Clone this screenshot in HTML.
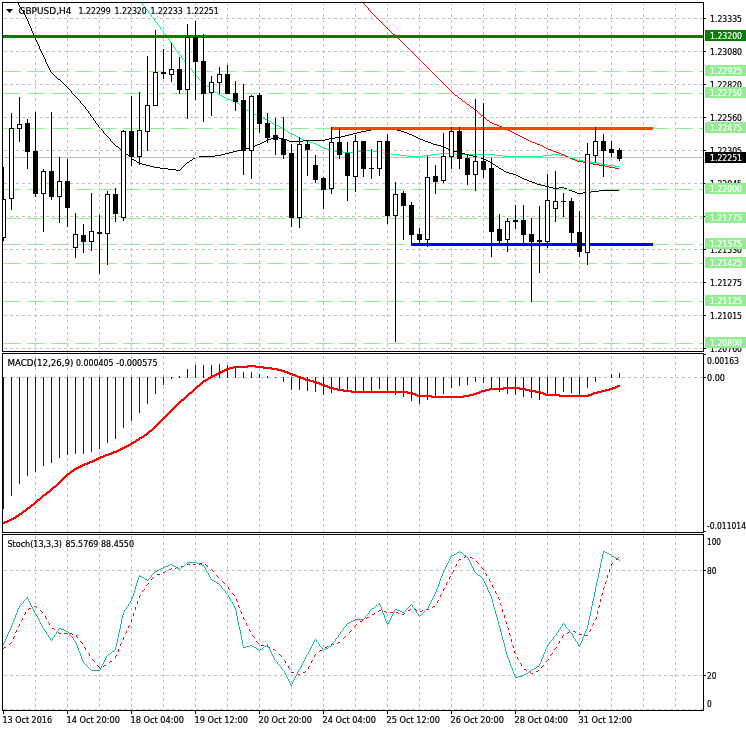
<!DOCTYPE html>
<html><head><meta charset="utf-8"><title>GBPUSD H4</title>
<style>html,body{margin:0;padding:0;background:#fff}svg{display:block}</style></head>
<body>
<svg width="746" height="731" viewBox="0 0 746 731" shape-rendering="crispEdges" font-family='"DejaVu Sans Condensed", "Liberation Sans", sans-serif' font-size="9px">
<rect width="746" height="731" fill="#fff"/>
<g id="vgrid">
<line x1="35.5" y1="2" x2="35.5" y2="710" stroke="#c0c0c0" stroke-width="1" stroke-dasharray="3 3" stroke-dashoffset="0"/>
<line x1="67.5" y1="2" x2="67.5" y2="710" stroke="#c0c0c0" stroke-width="1" stroke-dasharray="3 3" stroke-dashoffset="0"/>
<line x1="99.5" y1="2" x2="99.5" y2="710" stroke="#c0c0c0" stroke-width="1" stroke-dasharray="3 3" stroke-dashoffset="0"/>
<line x1="131.5" y1="2" x2="131.5" y2="710" stroke="#c0c0c0" stroke-width="1" stroke-dasharray="3 3" stroke-dashoffset="0"/>
<line x1="163.5" y1="2" x2="163.5" y2="710" stroke="#c0c0c0" stroke-width="1" stroke-dasharray="3 3" stroke-dashoffset="0"/>
<line x1="195.5" y1="2" x2="195.5" y2="710" stroke="#c0c0c0" stroke-width="1" stroke-dasharray="3 3" stroke-dashoffset="0"/>
<line x1="227.5" y1="2" x2="227.5" y2="710" stroke="#c0c0c0" stroke-width="1" stroke-dasharray="3 3" stroke-dashoffset="0"/>
<line x1="259.5" y1="2" x2="259.5" y2="710" stroke="#c0c0c0" stroke-width="1" stroke-dasharray="3 3" stroke-dashoffset="0"/>
<line x1="291.5" y1="2" x2="291.5" y2="710" stroke="#c0c0c0" stroke-width="1" stroke-dasharray="3 3" stroke-dashoffset="0"/>
<line x1="323.5" y1="2" x2="323.5" y2="710" stroke="#c0c0c0" stroke-width="1" stroke-dasharray="3 3" stroke-dashoffset="0"/>
<line x1="355.5" y1="2" x2="355.5" y2="710" stroke="#c0c0c0" stroke-width="1" stroke-dasharray="3 3" stroke-dashoffset="0"/>
<line x1="387.5" y1="2" x2="387.5" y2="710" stroke="#c0c0c0" stroke-width="1" stroke-dasharray="3 3" stroke-dashoffset="0"/>
<line x1="419.5" y1="2" x2="419.5" y2="710" stroke="#c0c0c0" stroke-width="1" stroke-dasharray="3 3" stroke-dashoffset="0"/>
<line x1="451.5" y1="2" x2="451.5" y2="710" stroke="#c0c0c0" stroke-width="1" stroke-dasharray="3 3" stroke-dashoffset="0"/>
<line x1="483.5" y1="2" x2="483.5" y2="710" stroke="#c0c0c0" stroke-width="1" stroke-dasharray="3 3" stroke-dashoffset="0"/>
<line x1="515.5" y1="2" x2="515.5" y2="710" stroke="#c0c0c0" stroke-width="1" stroke-dasharray="3 3" stroke-dashoffset="0"/>
<line x1="547.5" y1="2" x2="547.5" y2="710" stroke="#c0c0c0" stroke-width="1" stroke-dasharray="3 3" stroke-dashoffset="0"/>
<line x1="579.5" y1="2" x2="579.5" y2="710" stroke="#c0c0c0" stroke-width="1" stroke-dasharray="3 3" stroke-dashoffset="0"/>
<line x1="611.5" y1="2" x2="611.5" y2="710" stroke="#c0c0c0" stroke-width="1" stroke-dasharray="3 3" stroke-dashoffset="0"/>
<line x1="643.5" y1="2" x2="643.5" y2="710" stroke="#c0c0c0" stroke-width="1" stroke-dasharray="3 3" stroke-dashoffset="0"/>
<line x1="675.5" y1="2" x2="675.5" y2="710" stroke="#c0c0c0" stroke-width="1" stroke-dasharray="3 3" stroke-dashoffset="0"/>
</g>
<g id="hgrid">
<line x1="4" y1="18.5" x2="703" y2="18.5" stroke="#c0c0c0" stroke-width="1" stroke-dasharray="3 3" stroke-dashoffset="0"/>
<line x1="4" y1="51.5" x2="703" y2="51.5" stroke="#c0c0c0" stroke-width="1" stroke-dasharray="3 3" stroke-dashoffset="0"/>
<line x1="4" y1="84.5" x2="703" y2="84.5" stroke="#c0c0c0" stroke-width="1" stroke-dasharray="3 3" stroke-dashoffset="0"/>
<line x1="4" y1="117.5" x2="703" y2="117.5" stroke="#c0c0c0" stroke-width="1" stroke-dasharray="3 3" stroke-dashoffset="0"/>
<line x1="4" y1="150.5" x2="703" y2="150.5" stroke="#c0c0c0" stroke-width="1" stroke-dasharray="3 3" stroke-dashoffset="0"/>
<line x1="4" y1="183.5" x2="703" y2="183.5" stroke="#c0c0c0" stroke-width="1" stroke-dasharray="3 3" stroke-dashoffset="0"/>
<line x1="4" y1="216.5" x2="703" y2="216.5" stroke="#c0c0c0" stroke-width="1" stroke-dasharray="3 3" stroke-dashoffset="0"/>
<line x1="4" y1="249.5" x2="703" y2="249.5" stroke="#c0c0c0" stroke-width="1" stroke-dasharray="3 3" stroke-dashoffset="0"/>
<line x1="4" y1="282.5" x2="703" y2="282.5" stroke="#c0c0c0" stroke-width="1" stroke-dasharray="3 3" stroke-dashoffset="0"/>
<line x1="4" y1="315.5" x2="703" y2="315.5" stroke="#c0c0c0" stroke-width="1" stroke-dasharray="3 3" stroke-dashoffset="0"/>
<line x1="4" y1="348.5" x2="703" y2="348.5" stroke="#c0c0c0" stroke-width="1" stroke-dasharray="3 3" stroke-dashoffset="0"/>
<line x1="4" y1="377.5" x2="703" y2="377.5" stroke="#c0c0c0" stroke-width="1" stroke-dasharray="3 3" stroke-dashoffset="0"/>
<line x1="4" y1="570.5" x2="703" y2="570.5" stroke="#c0c0c0" stroke-width="1" stroke-dasharray="3 3" stroke-dashoffset="0"/>
<line x1="4" y1="675.5" x2="703" y2="675.5" stroke="#c0c0c0" stroke-width="1" stroke-dasharray="3 3" stroke-dashoffset="0"/>
<line x1="4" y1="709.5" x2="703" y2="709.5" stroke="#c0c0c0" stroke-width="1" stroke-dasharray="3 3" stroke-dashoffset="0"/>
</g>
<g id="mas">
<path d="M607 165h8v1h-8zM399 155h8v1h-8zM423 155h8v1h-8zM495 155h8v1h-8zM543 155h8v1h-8zM559 155h6v1h-6zM343 152h14v1h-14zM377 152h6v1h-6zM391 154h8v1h-8zM431 154h8v1h-8zM455 154h40v1h-40zM551 154h8v1h-8zM252 113h2v1h-2zM288 132h2v1h-2zM329 150h6v1h-6zM361 150h12v1h-12zM292 134h2v1h-2zM407 156h16v1h-16zM503 156h40v1h-40zM565 156h4v1h-4zM240 105h2v1h-2zM313 143h3v1h-3zM591 162h6v1h-6zM203 83h2v1h-2zM269 121h2v1h-2zM260 117h3v1h-3zM285 130h2v1h-2zM572 158h3v1h-3zM263 118h2v1h-2zM615 166h4v1h-4zM254 114h2v1h-2zM335 151h8v1h-8zM357 151h4v1h-4zM373 151h4v1h-4zM383 153h8v1h-8zM439 153h16v1h-16zM583 161h8v1h-8zM309 142h4v1h-4zM265 119h2v1h-2zM258 116h2v1h-2zM250 112h2v1h-2zM235 102h2v1h-2zM597 163h4v1h-4zM243 107h2v1h-2zM322 147h2v1h-2zM247 110h2v1h-2zM283 129h2v1h-2zM231 100h2v1h-2zM224 97h2v1h-2zM601 164h6v1h-6zM318 145h2v1h-2zM276 125h2v1h-2zM575 159h2v1h-2zM280 127h2v1h-2zM220 95h2v1h-2zM272 123h2v1h-2zM302 139h2v1h-2zM294 135h2v1h-2zM577 160h6v1h-6zM298 137h2v1h-2zM290 133h2v1h-2zM324 148h3v1h-3zM256 115h2v1h-2zM226 98h2v1h-2zM228 99h3v1h-3zM569 157h3v1h-3zM222 96h2v1h-2zM215 92h2v1h-2zM211 89h2v1h-2zM306 141h3v1h-3zM233 101h2v1h-2zM316 144h2v1h-2zM278 126h2v1h-2zM327 149h2v1h-2zM237 103h2v1h-2zM320 146h2v1h-2zM207 86h2v1h-2zM274 124h2v1h-2zM267 120h2v1h-2zM304 140h2v1h-2zM300 138h2v1h-2zM218 94h2v1h-2zM296 136h2v1h-2zM143 5h1v1h-1zM152 17h1v1h-1zM161 29h1v1h-1zM170 41h1v2h-1zM175 48h1v2h-1zM184 60h1v2h-1zM198 77h1v2h-1zM246 109h1v1h-1zM144 6h1v1h-1zM153 18h1v1h-1zM176 50h1v1h-1zM199 79h1v1h-1zM155 21h1v1h-1zM210 88h1v1h-1zM186 63h1v1h-1zM181 56h1v2h-1zM169 40h1v1h-1zM168 38h1v2h-1zM201 81h1v1h-1zM142 3h1v2h-1zM245 108h1v1h-1zM188 65h1v2h-1zM173 45h1v2h-1zM202 82h1v1h-1zM182 58h1v1h-1zM151 15h1v2h-1zM160 27h1v2h-1zM197 76h1v1h-1zM162 30h1v1h-1zM193 72h1v1h-1zM148 11h1v2h-1zM157 23h1v2h-1zM166 35h1v2h-1zM145 7h1v2h-1zM154 19h1v2h-1zM271 122h1v1h-1zM163 31h1v2h-1zM200 80h1v1h-1zM194 73h1v1h-1zM217 93h1v1h-1zM149 13h1v1h-1zM158 25h1v1h-1zM195 74h1v1h-1zM189 67h1v1h-1zM172 44h1v1h-1zM249 111h1v1h-1zM196 75h1v1h-1zM206 85h1v1h-1zM174 47h1v1h-1zM183 59h1v1h-1zM164 33h1v1h-1zM192 70h1v2h-1zM209 87h1v1h-1zM191 69h1v1h-1zM178 52h1v2h-1zM147 10h1v1h-1zM156 22h1v1h-1zM282 128h1v1h-1zM165 34h1v1h-1zM167 37h1v1h-1zM179 54h1v1h-1zM171 43h1v1h-1zM180 55h1v1h-1zM239 104h1v1h-1zM150 14h1v1h-1zM159 26h1v1h-1zM190 68h1v1h-1zM242 106h1v1h-1zM205 84h1v1h-1zM185 62h1v1h-1zM287 131h1v1h-1zM213 90h1v1h-1zM146 9h1v1h-1zM214 91h1v1h-1zM177 51h1v1h-1zM187 64h1v1h-1z" fill="#00ff7f"/>
<path d="M599 165h6v1h-6zM609 167h6v1h-6zM577 161h6v1h-6zM553 151h3v1h-3zM490 122h2v1h-2zM589 163h4v1h-4zM524 138h2v1h-2zM516 134h2v1h-2zM593 164h6v1h-6zM575 160h2v1h-2zM542 146h2v1h-2zM512 132h2v1h-2zM535 143h2v1h-2zM463 101h2v1h-2zM475 110h2v1h-2zM615 168h4v1h-4zM583 162h6v1h-6zM497 125h2v1h-2zM546 148h2v1h-2zM393 34h2v1h-2zM471 107h2v1h-2zM530 141h2v1h-2zM561 154h3v1h-3zM467 104h2v1h-2zM492 123h2v1h-2zM556 152h3v1h-3zM481 115h2v1h-2zM548 149h3v1h-3zM605 166h4v1h-4zM568 157h2v1h-2zM504 128h2v1h-2zM459 98h2v1h-2zM572 159h3v1h-3zM564 155h2v1h-2zM499 126h3v1h-3zM522 137h2v1h-2zM559 153h2v1h-2zM526 139h2v1h-2zM455 95h2v1h-2zM518 135h2v1h-2zM510 131h2v1h-2zM551 150h2v1h-2zM544 147h2v1h-2zM514 133h2v1h-2zM506 129h2v1h-2zM537 144h3v1h-3zM508 130h2v1h-2zM540 145h2v1h-2zM502 127h2v1h-2zM532 142h3v1h-3zM494 124h3v1h-3zM487 120h2v1h-2zM570 158h2v1h-2zM566 156h2v1h-2zM528 140h2v1h-2zM520 136h2v1h-2zM388 29h1v1h-1zM405 45h1v1h-1zM479 113h1v1h-1zM415 55h1v1h-1zM442 82h1v1h-1zM411 51h1v1h-1zM389 30h1v1h-1zM438 78h1v1h-1zM448 88h1v1h-1zM466 103h1v1h-1zM444 84h1v1h-1zM439 79h1v1h-1zM416 56h1v1h-1zM473 108h1v1h-1zM412 52h1v1h-1zM474 109h1v1h-1zM449 89h1v1h-1zM413 53h1v1h-1zM445 85h1v1h-1zM392 33h1v1h-1zM369 10h1v1h-1zM374 15h1v1h-1zM446 86h1v1h-1zM489 121h1v1h-1zM423 63h1v1h-1zM370 11h1v1h-1zM364 4h1v1h-1zM419 59h1v1h-1zM414 54h1v1h-1zM420 60h1v1h-1zM452 92h1v1h-1zM447 87h1v1h-1zM483 116h1v1h-1zM371 12h1v1h-1zM443 83h1v1h-1zM381 22h1v1h-1zM453 93h1v1h-1zM377 18h1v1h-1zM372 13h1v1h-1zM421 61h1v1h-1zM373 14h1v1h-1zM368 8h1v2h-1zM417 57h1v1h-1zM427 67h1v1h-1zM454 94h1v1h-1zM418 58h1v1h-1zM378 19h1v1h-1zM450 90h1v1h-1zM395 35h1v1h-1zM486 119h1v1h-1zM461 99h1v1h-1zM379 20h1v1h-1zM451 91h1v1h-1zM428 68h1v1h-1zM462 100h1v1h-1zM375 16h1v1h-1zM424 64h1v1h-1zM429 69h1v1h-1zM469 105h1v1h-1zM365 5h1v1h-1zM425 65h1v1h-1zM385 26h1v1h-1zM402 42h1v1h-1zM397 37h1v1h-1zM366 6h1v1h-1zM398 38h1v1h-1zM376 17h1v1h-1zM386 27h1v1h-1zM403 43h1v1h-1zM484 117h1v1h-1zM477 111h1v1h-1zM435 75h1v1h-1zM430 70h1v1h-1zM382 23h1v1h-1zM399 39h1v1h-1zM431 71h1v1h-1zM426 66h1v1h-1zM436 76h1v1h-1zM367 7h1v1h-1zM422 62h1v1h-1zM432 72h1v1h-1zM404 44h1v1h-1zM485 118h1v1h-1zM478 112h1v1h-1zM363 3h1v1h-1zM383 24h1v1h-1zM400 40h1v1h-1zM410 50h1v1h-1zM396 36h1v1h-1zM406 46h1v1h-1zM384 25h1v1h-1zM401 41h1v1h-1zM433 73h1v1h-1zM380 21h1v1h-1zM434 74h1v1h-1zM480 114h1v1h-1zM470 106h1v1h-1zM390 31h1v1h-1zM407 47h1v1h-1zM391 32h1v1h-1zM408 48h1v1h-1zM440 80h1v1h-1zM457 96h1v1h-1zM387 28h1v1h-1zM441 81h1v1h-1zM458 97h1v1h-1zM437 77h1v1h-1zM465 102h1v1h-1zM409 49h1v1h-1z" fill="#ff0000"/>
<path d="M575 192h2v1h-2zM583 192h8v1h-8zM264 141h2v1h-2zM289 141h14v1h-14zM425 141h3v1h-3zM168 169h8v1h-8zM501 169h2v1h-2zM376 128h17v1h-17zM139 163h3v1h-3zM491 163h2v1h-2zM545 186h4v1h-4zM225 153h4v1h-4zM461 153h4v1h-4zM341 136h4v1h-4zM414 136h2v1h-2zM257 144h3v1h-3zM433 144h4v1h-4zM268 139h3v1h-3zM284 139h3v1h-3zM325 139h4v1h-4zM420 139h3v1h-3zM266 140h2v1h-2zM287 140h2v1h-2zM303 140h22v1h-22zM423 140h2v1h-2zM154 167h6v1h-6zM255 145h2v1h-2zM437 145h4v1h-4zM199 156h16v1h-16zM473 156h4v1h-4zM504 171h2v1h-2zM572 191h3v1h-3zM591 191h8v1h-8zM229 152h4v1h-4zM457 152h4v1h-4zM273 137h6v1h-6zM335 137h6v1h-6zM416 137h2v1h-2zM506 172h3v1h-3zM371 129h5v1h-5zM393 129h4v1h-4zM549 187h4v1h-4zM559 187h5v1h-5zM569 190h3v1h-3zM599 190h20v1h-20zM249 147h3v1h-3zM444 147h2v1h-2zM126 154h2v1h-2zM221 154h4v1h-4zM465 154h4v1h-4zM577 193h6v1h-6zM260 143h2v1h-2zM431 143h2v1h-2zM366 130h5v1h-5zM397 130h4v1h-4zM353 133h4v1h-4zM407 133h2v1h-2zM215 155h6v1h-6zM469 155h4v1h-4zM120 149h2v1h-2zM241 149h4v1h-4zM448 149h2v1h-2zM160 168h8v1h-8zM499 168h2v1h-2zM361 131h5v1h-5zM401 131h3v1h-3zM509 173h4v1h-4zM142 164h4v1h-4zM493 164h2v1h-2zM134 160h2v1h-2zM190 160h2v1h-2zM486 160h2v1h-2zM233 151h4v1h-4zM453 151h4v1h-4zM271 138h2v1h-2zM279 138h5v1h-5zM329 138h6v1h-6zM418 138h2v1h-2zM146 165h4v1h-4zM349 134h4v1h-4zM409 134h3v1h-3zM245 148h4v1h-4zM446 148h2v1h-2zM195 157h4v1h-4zM477 157h4v1h-4zM193 158h2v1h-2zM481 158h3v1h-3zM237 150h4v1h-4zM450 150h3v1h-3zM524 179h3v1h-3zM116 146h2v1h-2zM252 146h3v1h-3zM441 146h3v1h-3zM518 176h2v1h-2zM150 166h4v1h-4zM496 166h2v1h-2zM529 181h3v1h-3zM520 177h2v1h-2zM176 170h4v1h-4zM522 178h2v1h-2zM137 162h2v1h-2zM187 162h2v1h-2zM513 174h3v1h-3zM345 135h4v1h-4zM412 135h2v1h-2zM132 159h2v1h-2zM484 159h2v1h-2zM58 79h2v1h-2zM357 132h4v1h-4zM404 132h3v1h-3zM532 182h3v1h-3zM553 188h6v1h-6zM564 188h3v1h-3zM567 189h2v1h-2zM535 183h2v1h-2zM488 161h2v1h-2zM537 184h4v1h-4zM262 142h2v1h-2zM428 142h3v1h-3zM541 185h4v1h-4zM516 175h2v1h-2zM527 180h2v1h-2zM50 70h1v2h-1zM81 103h1v1h-1zM110 139h1v2h-1zM31 28h1v3h-1zM90 114h1v2h-1zM105 134h1v1h-1zM38 44h1v2h-1zM99 127h1v1h-1zM34 35h1v3h-1zM28 21h1v3h-1zM40 49h1v2h-1zM37 42h1v2h-1zM21 8h1v2h-1zM41 51h1v2h-1zM503 170h1v1h-1zM47 64h1v2h-1zM22 10h1v1h-1zM72 93h1v1h-1zM88 111h1v2h-1zM82 104h1v1h-1zM18 3h1v2h-1zM32 31h1v2h-1zM498 167h1v1h-1zM45 59h1v3h-1zM186 163h1v1h-1zM93 118h1v2h-1zM73 94h1v1h-1zM102 130h1v1h-1zM39 46h1v3h-1zM185 164h1v1h-1zM103 131h1v2h-1zM36 40h1v2h-1zM118 147h1v1h-1zM26 17h1v2h-1zM97 124h1v1h-1zM33 33h1v2h-1zM85 107h1v2h-1zM189 161h1v1h-1zM64 84h1v1h-1zM42 53h1v2h-1zM109 138h1v1h-1zM19 5h1v2h-1zM119 148h1v1h-1zM43 55h1v2h-1zM46 62h1v2h-1zM60 80h1v1h-1zM49 68h1v2h-1zM80 101h1v2h-1zM24 13h1v2h-1zM30 26h1v2h-1zM89 113h1v1h-1zM75 96h1v1h-1zM76 97h1v1h-1zM91 116h1v1h-1zM71 91h1v2h-1zM100 128h1v1h-1zM77 98h1v1h-1zM61 81h1v1h-1zM95 121h1v2h-1zM25 15h1v2h-1zM83 105h1v1h-1zM62 82h1v1h-1zM92 117h1v1h-1zM29 24h1v2h-1zM128 155h1v1h-1zM51 72h1v1h-1zM44 57h1v2h-1zM84 106h1v1h-1zM78 99h1v1h-1zM48 66h1v2h-1zM74 95h1v1h-1zM490 162h1v1h-1zM68 88h1v1h-1zM63 83h1v1h-1zM56 77h1v1h-1zM35 38h1v2h-1zM111 141h1v1h-1zM183 166h1v1h-1zM52 73h1v1h-1zM69 89h1v1h-1zM98 125h1v2h-1zM184 165h1v1h-1zM27 19h1v2h-1zM65 85h1v1h-1zM181 168h1v1h-1zM20 7h1v1h-1zM182 167h1v1h-1zM131 158h1v1h-1zM23 11h1v2h-1zM70 90h1v1h-1zM66 86h1v1h-1zM54 75h1v1h-1zM114 144h1v1h-1zM94 120h1v1h-1zM495 165h1v1h-1zM55 76h1v1h-1zM67 87h1v1h-1zM96 123h1v1h-1zM129 156h1v1h-1zM122 150h1v1h-1zM115 145h1v1h-1zM79 100h1v1h-1zM136 161h1v1h-1zM87 110h1v1h-1zM57 78h1v1h-1zM112 142h1v1h-1zM130 157h1v1h-1zM106 135h1v1h-1zM123 151h1v1h-1zM53 74h1v1h-1zM192 159h1v1h-1zM124 152h1v1h-1zM107 136h1v1h-1zM101 129h1v1h-1zM180 169h1v1h-1zM113 143h1v1h-1zM108 137h1v1h-1zM125 153h1v1h-1zM86 109h1v1h-1zM104 133h1v1h-1z" fill="#000"/>
</g>
<g id="levels">
<line x1="3" y1="71.5" x2="703" y2="71.5" stroke="#90ee90" stroke-width="1" stroke-dasharray="18 6" stroke-dashoffset="0"/>
<line x1="3" y1="93.5" x2="703" y2="93.5" stroke="#90ee90" stroke-width="1" stroke-dasharray="18 6" stroke-dashoffset="0"/>
<line x1="3" y1="128.5" x2="703" y2="128.5" stroke="#90ee90" stroke-width="1" stroke-dasharray="18 6" stroke-dashoffset="0"/>
<line x1="3" y1="189.5" x2="703" y2="189.5" stroke="#90ee90" stroke-width="1" stroke-dasharray="18 6" stroke-dashoffset="0"/>
<line x1="3" y1="218.5" x2="703" y2="218.5" stroke="#90ee90" stroke-width="1" stroke-dasharray="18 6" stroke-dashoffset="0"/>
<line x1="3" y1="244.5" x2="703" y2="244.5" stroke="#90ee90" stroke-width="1" stroke-dasharray="18 6" stroke-dashoffset="0"/>
<line x1="3" y1="263.5" x2="703" y2="263.5" stroke="#90ee90" stroke-width="1" stroke-dasharray="18 6" stroke-dashoffset="0"/>
<line x1="3" y1="301.5" x2="703" y2="301.5" stroke="#90ee90" stroke-width="1" stroke-dasharray="18 6" stroke-dashoffset="0"/>
<line x1="3" y1="343.5" x2="703" y2="343.5" stroke="#90ee90" stroke-width="1" stroke-dasharray="18 6" stroke-dashoffset="0"/>
</g>
<line x1="3" y1="157.5" x2="703" y2="157.5" stroke="#c0c0c0" stroke-width="1"/>
<rect x="3" y="35" width="700" height="3" fill="#008000"/>
<rect x="331" y="127" width="322" height="3" fill="#ff4500"/>
<rect x="411" y="243" width="242" height="3" fill="#0000ff"/>
<g id="candles">
<path d="M3 167h1v74h-1zM3 199h3v39h-3zM11 113h1v97h-1zM9 128h5v71h-5zM19 97h1v45h-1zM17 124h5v5h-5zM27 119h1v50h-1zM25 123h5v29h-5zM35 112h1v85h-1zM33 151h5v43h-5zM43 169h1v63h-1zM41 171h5v23h-5zM51 112h1v88h-1zM49 171h5v26h-5zM59 157h1v66h-1zM57 181h5v16h-5zM67 159h1v68h-1zM65 181h5v27h-5zM75 213h1v45h-1zM73 234h5v14h-5zM83 224h1v29h-1zM81 235h5v7h-5zM91 193h1v58h-1zM89 231h5v11h-5zM99 215h1v59h-1zM97 232h5v2h-5zM107 191h1v74h-1zM105 194h5v40h-5zM115 188h1v34h-1zM113 194h5v20h-5zM123 130h1v91h-1zM121 131h5v87h-5zM131 96h1v70h-1zM129 131h5v26h-5zM139 92h1v73h-1zM137 130h5v27h-5zM147 56h1v95h-1zM145 105h5v27h-5zM155 30h1v76h-1zM153 72h5v34h-5zM163 49h1v30h-1zM161 72h5v2h-5zM171 43h1v39h-1zM169 69h5v6h-5zM179 57h1v37h-1zM177 69h5v21h-5zM187 24h1v95h-1zM185 37h5v53h-5zM195 21h1v79h-1zM193 37h5v25h-5zM203 34h1v88h-1zM201 61h5v33h-5zM211 76h1v40h-1zM209 82h5v11h-5zM219 67h1v27h-1zM217 74h5v9h-5zM227 65h1v29h-1zM225 74h5v20h-5zM235 81h1v30h-1zM233 93h5v9h-5zM243 84h1v91h-1zM241 100h5v51h-5zM251 95h1v84h-1zM249 96h5v55h-5zM259 93h1v40h-1zM257 95h5v29h-5zM267 113h1v30h-1zM265 123h5v15h-5zM275 118h1v37h-1zM273 135h5v5h-5zM283 117h1v42h-1zM281 139h5v16h-5zM291 144h1v83h-1zM289 153h5v65h-5zM299 137h1v91h-1zM297 144h5v74h-5zM307 141h1v35h-1zM305 144h5v6h-5zM315 155h1v28h-1zM313 165h5v15h-5zM323 177h1v32h-1zM321 178h5v12h-5zM331 127h1v67h-1zM329 142h5v47h-5zM339 128h1v31h-1zM337 142h5v13h-5zM347 142h1v59h-1zM345 153h5v23h-5zM355 135h1v57h-1zM353 141h5v36h-5zM363 141h1v36h-1zM361 141h5v28h-5zM371 149h1v30h-1zM369 168h5v1h-5zM379 141h1v35h-1zM377 141h5v28h-5zM387 134h1v90h-1zM385 141h5v75h-5zM395 182h1v160h-1zM393 194h5v22h-5zM403 191h1v49h-1zM401 193h5v13h-5zM411 202h1v42h-1zM409 205h5v30h-5zM419 228h1v16h-1zM417 234h5v6h-5zM427 156h1v91h-1zM425 177h5v63h-5zM435 165h1v29h-1zM433 176h5v6h-5zM443 133h1v50h-1zM441 156h5v25h-5zM451 127h1v42h-1zM449 131h5v26h-5zM459 127h1v42h-1zM457 131h5v28h-5zM467 155h1v30h-1zM465 158h5v17h-5zM475 99h1v92h-1zM473 161h5v14h-5zM483 103h1v75h-1zM481 161h5v9h-5zM491 158h1v99h-1zM489 168h5v64h-5zM499 214h1v29h-1zM497 229h5v12h-5zM507 218h1v34h-1zM505 221h5v19h-5zM515 205h1v24h-1zM513 220h5v2h-5zM523 205h1v41h-1zM521 220h5v15h-5zM531 218h1v84h-1zM529 234h5v8h-5zM539 206h1v67h-1zM537 240h5v2h-5zM547 174h1v74h-1zM545 200h5v42h-5zM555 171h1v51h-1zM553 201h5v8h-5zM563 193h1v24h-1zM561 201h5v1h-5zM571 198h1v46h-1zM569 201h5v32h-5zM579 211h1v46h-1zM577 232h5v20h-5zM587 143h1v122h-1zM585 154h5v99h-5zM595 127h1v36h-1zM593 141h5v15h-5zM603 134h1v43h-1zM601 141h5v10h-5zM611 141h1v16h-1zM609 149h5v4h-5zM619 148h1v13h-1zM617 150h5v9h-5z" fill="#000"/>
<path d="M3 200h2v37h-2zM10 129h3v69h-3zM18 125h3v3h-3zM42 172h3v21h-3zM58 182h3v14h-3zM74 235h3v12h-3zM90 232h3v9h-3zM106 195h3v38h-3zM122 132h3v85h-3zM138 131h3v25h-3zM146 106h3v25h-3zM154 73h3v32h-3zM170 70h3v4h-3zM186 38h3v51h-3zM210 83h3v9h-3zM218 75h3v7h-3zM250 97h3v53h-3zM298 145h3v72h-3zM330 143h3v45h-3zM354 142h3v34h-3zM378 142h3v26h-3zM394 195h3v20h-3zM426 178h3v61h-3zM442 157h3v23h-3zM450 132h3v24h-3zM474 162h3v12h-3zM506 222h3v17h-3zM546 201h3v40h-3zM554 202h3v6h-3zM586 155h3v97h-3zM594 142h3v13h-3z" fill="#fff"/>
</g>
<g id="macd">
<path d="M3 377h1v132h-1zM11 377h1v119h-1zM19 377h1v107h-1zM27 377h1v99h-1zM35 377h1v95h-1zM43 377h1v89h-1zM51 377h1v86h-1zM59 377h1v81h-1zM67 377h1v78h-1zM75 377h1v77h-1zM83 377h1v77h-1zM91 377h1v75h-1zM99 377h1v72h-1zM107 377h1v66h-1zM115 377h1v62h-1zM123 377h1v51h-1zM131 377h1v44h-1zM139 377h1v36h-1zM147 377h1v27h-1zM155 377h1v17h-1zM163 377h1v8h-1zM171 377h1v2h-1zM179 376h1v2h-1zM187 369h1v9h-1zM195 365h1v13h-1zM203 365h1v13h-1zM211 365h1v13h-1zM219 364h1v14h-1zM227 365h1v13h-1zM235 368h1v10h-1zM243 372h1v6h-1zM251 372h1v6h-1zM259 374h1v4h-1zM267 376h1v2h-1zM275 377h1v1h-1zM283 377h1v5h-1zM291 377h1v13h-1zM299 377h1v13h-1zM307 377h1v14h-1zM315 377h1v15h-1zM323 377h1v18h-1zM331 377h1v16h-1zM339 377h1v14h-1zM347 377h1v15h-1zM355 377h1v14h-1zM363 377h1v15h-1zM371 377h1v14h-1zM379 377h1v12h-1zM387 377h1v15h-1zM395 377h1v18h-1zM403 377h1v20h-1zM411 377h1v24h-1zM419 377h1v27h-1zM427 377h1v23h-1zM435 377h1v20h-1zM443 377h1v17h-1zM451 377h1v11h-1zM459 377h1v9h-1zM467 377h1v8h-1zM475 377h1v5h-1zM483 377h1v6h-1zM491 377h1v12h-1zM499 377h1v15h-1zM507 377h1v17h-1zM515 377h1v18h-1zM523 377h1v20h-1zM531 377h1v21h-1zM539 377h1v23h-1zM547 377h1v19h-1zM555 377h1v17h-1zM563 377h1v15h-1zM571 377h1v16h-1zM579 377h1v19h-1zM587 377h1v11h-1zM595 377h1v5h-1zM611 374h1v4h-1zM619 373h1v5h-1z" fill="#0000ff"/>
<path d="M192 390h3v1h-3zM337 390h15v1h-15zM481 390h9v1h-9zM525 390h11v1h-11zM601 390h9v1h-9zM184 397h3v1h-3zM431 397h33v1h-33zM189 392h4v1h-4zM351 392h62v1h-62zM476 392h6v1h-6zM535 392h9v1h-9zM593 392h9v1h-9zM120 448h5v1h-5zM156 424h3v1h-3zM178 402h3v1h-3zM224 369h6v1h-6zM271 369h11v1h-11zM187 394h3v1h-3zM412 394h6v1h-6zM469 394h8v1h-8zM543 394h17v1h-17zM588 394h6v1h-6zM135 440h4v1h-4zM7 520h5v1h-5zM194 388h3v1h-3zM329 388h9v1h-9zM489 388h37v1h-37zM609 388h7v1h-7zM41 496h3v1h-3zM229 367h19v1h-19zM255 367h17v1h-17zM208 377h5v1h-5zM297 377h7v1h-7zM105 454h7v1h-7zM222 370h5v1h-5zM277 370h8v1h-8zM147 432h3v1h-3zM89 461h6v1h-6zM186 395h3v1h-3zM415 395h17v1h-17zM463 395h11v1h-11zM545 395h47v1h-47zM133 441h4v1h-4zM193 389h3v1h-3zM333 389h11v1h-11zM485 389h19v1h-19zM519 389h11v1h-11zM605 389h8v1h-8zM4 521h6v1h-6zM31 504h4v1h-4zM218 372h5v1h-5zM284 372h6v1h-6zM19 513h4v1h-4zM188 393h4v1h-4zM407 393h9v1h-9zM473 393h7v1h-7zM540 393h6v1h-6zM591 393h7v1h-7zM84 463h6v1h-6zM185 396h3v1h-3zM417 396h53v1h-53zM559 396h30v1h-30zM3 523h2v1h-2zM216 373h5v1h-5zM287 373h6v1h-6zM69 472h3v1h-3zM111 452h6v1h-6zM226 368h8v1h-8zM263 368h15v1h-15zM191 391h3v1h-3zM343 391h65v1h-65zM479 391h7v1h-7zM529 391h12v1h-12zM597 391h9v1h-9zM23 510h4v1h-4zM203 380h5v1h-5zM305 380h9v1h-9zM169 411h3v1h-3zM196 386h4v1h-4zM324 386h6v1h-6zM615 386h5v1h-5zM202 381h4v1h-4zM309 381h8v1h-8zM195 387h3v1h-3zM327 387h7v1h-7zM503 387h17v1h-17zM612 387h6v1h-6zM65 475h3v1h-3zM116 450h5v1h-5zM163 417h3v1h-3zM233 366h31v1h-31zM154 426h3v1h-3zM220 371h5v1h-5zM281 371h7v1h-7zM131 442h5v1h-5zM3 522h5v1h-5zM247 365h9v1h-9zM153 427h3v1h-3zM59 481h3v1h-3zM49 490h3v1h-3zM21 512h3v1h-3zM176 404h3v1h-3zM143 435h4v1h-4zM100 456h6v1h-6zM18 514h4v1h-4zM29 506h3v1h-3zM161 419h3v1h-3zM160 420h3v1h-3zM66 474h4v1h-4zM57 483h3v1h-3zM46 492h4v1h-4zM78 466h5v1h-5zM199 384h3v1h-3zM319 384h6v1h-6zM207 378h4v1h-4zM300 378h6v1h-6zM103 455h6v1h-6zM183 398h3v1h-3zM39 498h3v1h-3zM126 445h5v1h-5zM152 428h3v1h-3zM98 457h6v1h-6zM139 437h5v1h-5zM36 500h4v1h-4zM96 458h5v1h-5zM200 383h3v1h-3zM316 383h6v1h-6zM26 508h4v1h-4zM212 375h5v1h-5zM292 375h6v1h-6zM167 413h3v1h-3zM64 476h3v1h-3zM74 468h5v1h-5zM165 415h3v1h-3zM63 477h3v1h-3zM180 400h4v1h-4zM47 491h4v1h-4zM159 421h3v1h-3zM149 430h4v1h-4zM94 459h5v1h-5zM136 439h4v1h-4zM124 446h5v1h-5zM55 485h3v1h-3zM43 494h4v1h-4zM141 436h4v1h-4zM210 376h5v1h-5zM295 376h6v1h-6zM71 470h4v1h-4zM201 382h3v1h-3zM313 382h7v1h-7zM172 408h3v1h-3zM22 511h4v1h-4zM197 385h4v1h-4zM321 385h7v1h-7zM617 385h3v1h-3zM61 479h3v1h-3zM52 487h4v1h-4zM138 438h4v1h-4zM9 519h5v1h-5zM45 493h3v1h-3zM34 502h3v1h-3zM205 379h4v1h-4zM303 379h7v1h-7zM82 464h6v1h-6zM42 495h4v1h-4zM87 462h6v1h-6zM144 434h4v1h-4zM108 453h6v1h-6zM50 489h3v1h-3zM128 444h4v1h-4zM30 505h4v1h-4zM214 374h5v1h-5zM289 374h7v1h-7zM158 422h3v1h-3zM174 406h3v1h-3zM15 516h4v1h-4zM11 518h5v1h-5zM76 467h5v1h-5zM181 399h4v1h-4zM56 484h3v1h-3zM122 447h5v1h-5zM166 414h3v1h-3zM157 423h3v1h-3zM118 449h5v1h-5zM62 478h3v1h-3zM92 460h5v1h-5zM164 416h3v1h-3zM113 451h6v1h-6zM60 480h3v1h-3zM80 465h5v1h-5zM170 410h3v1h-3zM53 486h4v1h-4zM155 425h3v1h-3zM40 497h3v1h-3zM148 431h4v1h-4zM33 503h3v1h-3zM168 412h3v1h-3zM51 488h3v1h-3zM146 433h3v1h-3zM27 507h4v1h-4zM37 499h4v1h-4zM151 429h3v1h-3zM35 501h3v1h-3zM16 515h4v1h-4zM73 469h4v1h-4zM173 407h3v1h-3zM13 517h4v1h-4zM25 509h3v1h-3zM179 401h3v1h-3zM177 403h3v1h-3zM171 409h3v1h-3zM70 471h4v1h-4zM67 473h4v1h-4zM58 482h3v1h-3zM162 418h3v1h-3zM175 405h3v1h-3zM130 443h4v1h-4z" fill="#ff0000"/>
</g>
<g id="stoch">
<path d="M585 635h3v1h-3zM169 569h2v1h-2zM320 650h2v1h-2zM187 564h3v1h-3zM193 564h3v1h-3zM573 631h2v1h-2zM176 567h2v1h-2zM291 672h3v1h-3zM303 672h2v1h-2zM200 563h2v1h-2zM338 642h2v1h-2zM267 646h2v1h-2zM261 645h3v1h-3zM379 610h2v1h-2zM408 610h2v1h-2zM110 661h2v1h-2zM470 557h2v1h-2zM59 633h2v1h-2zM64 633h3v1h-3zM70 633h2v1h-2zM4 647h2v1h-2zM325 647h2v1h-2zM414 609h2v1h-2zM426 609h3v1h-3zM579 634h3v1h-3zM157 574h3v1h-3zM34 606h2v1h-2zM433 606h2v1h-2zM390 612h3v1h-3zM396 612h2v1h-2zM367 617h2v1h-2zM360 621h2v1h-2zM52 628h2v1h-2zM181 566h3v1h-3zM273 649h2v1h-2zM531 673h2v1h-2zM384 611h2v1h-2zM420 611h2v1h-2zM104 665h2v1h-2zM465 556h2v1h-2zM372 614h2v1h-2zM402 614h2v1h-2zM298 674h2v1h-2zM331 644h3v1h-3zM163 572h2v1h-2zM29 608h2v1h-2zM536 671h2v1h-2zM459 559h2v1h-2zM524 669h2v1h-2zM281 656h1v1h-1zM315 654h1v1h-1zM559 641h1v2h-1zM327 646h1v1h-1zM590 629h1v2h-1zM319 651h1v1h-1zM618 557h1v1h-1zM218 577h1v1h-1zM125 633h1v1h-1zM19 624h1v2h-1zM513 646h1v2h-1zM502 609h1v3h-1zM311 661h1v2h-1zM49 623h1v2h-1zM517 657h1v2h-1zM285 661h1v2h-1zM550 655h1v1h-1zM42 612h1v1h-1zM520 663h1v1h-1zM137 601h1v3h-1zM211 569h1v1h-1zM11 642h1v1h-1zM142 591h1v1h-1zM602 593h1v2h-1zM76 635h1v2h-1zM446 583h1v2h-1zM499 599h1v1h-1zM477 562h1v1h-1zM530 672h1v1h-1zM596 617h1v2h-1zM280 655h1v1h-1zM314 655h1v2h-1zM543 665h1v1h-1zM72 634h1v1h-1zM153 577h1v1h-1zM129 625h1v1h-1zM46 618h1v1h-1zM569 631h1v1h-1zM498 597h1v2h-1zM18 626h1v1h-1zM133 613h1v3h-1zM250 631h1v1h-1zM450 576h1v1h-1zM562 636h1v2h-1zM609 569h1v3h-1zM597 611h1v3h-1zM354 626h1v1h-1zM441 594h1v1h-1zM476 561h1v1h-1zM512 645h1v1h-1zM243 617h1v2h-1zM495 591h1v2h-1zM22 618h1v2h-1zM206 565h1v1h-1zM546 661h1v1h-1zM349 632h1v1h-1zM89 654h1v2h-1zM121 643h1v1h-1zM207 566h1v1h-1zM437 601h1v2h-1zM239 607h1v1h-1zM511 639h1v3h-1zM253 636h1v1h-1zM45 616h1v2h-1zM600 599h1v3h-1zM246 623h1v2h-1zM254 637h1v1h-1zM247 625h1v1h-1zM538 670h1v1h-1zM508 628h1v2h-1zM398 613h1v1h-1zM93 660h1v1h-1zM128 626h1v2h-1zM175 568h1v1h-1zM144 589h1v1h-1zM228 587h1v2h-1zM472 558h1v1h-1zM249 629h1v2h-1zM617 558h1v1h-1zM257 642h1v1h-1zM440 595h1v2h-1zM595 619h1v1h-1zM115 656h1v2h-1zM504 615h1v3h-1zM344 637h1v1h-1zM453 570h1v2h-1zM410 609h1v1h-1zM275 650h1v1h-1zM337 643h1v1h-1zM120 644h1v2h-1zM507 627h1v1h-1zM14 636h1v1h-1zM604 587h1v1h-1zM92 659h1v1h-1zM309 666h1v1h-1zM123 637h1v3h-1zM521 664h1v2h-1zM10 643h1v1h-1zM356 624h1v1h-1zM518 659h1v1h-1zM515 653h1v1h-1zM548 659h1v1h-1zM378 611h1v1h-1zM213 571h1v1h-1zM599 605h1v2h-1zM478 563h1v1h-1zM140 595h1v1h-1zM612 563h1v1h-1zM152 578h1v1h-1zM444 588h1v1h-1zM297 673h1v1h-1zM238 605h1v2h-1zM289 668h1v1h-1zM464 557h1v1h-1zM147 584h1v1h-1zM455 566h1v1h-1zM25 612h1v2h-1zM212 570h1v1h-1zM514 651h1v2h-1zM568 632h1v1h-1zM603 588h1v2h-1zM16 630h1v2h-1zM118 649h1v3h-1zM351 630h1v1h-1zM416 610h1v1h-1zM308 667h1v2h-1zM77 637h1v1h-1zM374 613h1v1h-1zM21 620h1v1h-1zM555 648h1v1h-1zM126 631h1v2h-1zM404 613h1v1h-1zM288 666h1v2h-1zM28 609h1v1h-1zM131 619h1v3h-1zM500 603h1v2h-1zM40 610h1v1h-1zM312 660h1v1h-1zM135 607h1v3h-1zM607 575h1v3h-1zM366 618h1v1h-1zM611 564h1v2h-1zM244 619h1v1h-1zM496 593h1v1h-1zM362 620h1v1h-1zM606 581h1v1h-1zM551 654h1v1h-1zM492 585h1v2h-1zM58 632h1v1h-1zM80 641h1v1h-1zM143 590h1v1h-1zM481 567h1v1h-1zM222 581h1v1h-1zM94 661h1v1h-1zM589 631h1v1h-1zM482 568h1v1h-1zM284 660h1v1h-1zM558 643h1v1h-1zM103 666h1v1h-1zM506 622h1v2h-1zM229 589h1v1h-1zM509 633h1v2h-1zM258 643h1v1h-1zM593 623h1v2h-1zM510 635h1v1h-1zM54 629h1v1h-1zM449 577h1v2h-1zM269 647h1v1h-1zM601 595h1v1h-1zM236 599h1v2h-1zM458 560h1v1h-1zM438 600h1v1h-1zM542 666h1v1h-1zM554 649h1v1h-1zM240 611h1v1h-1zM97 665h1v1h-1zM15 632h1v1h-1zM605 582h1v2h-1zM98 666h1v1h-1zM232 593h1v1h-1zM422 610h1v1h-1zM233 594h1v1h-1zM109 662h1v1h-1zM199 564h1v1h-1zM345 636h1v1h-1zM505 621h1v1h-1zM592 625h1v1h-1zM3 648h1v1h-1zM305 671h1v1h-1zM116 655h1v1h-1zM85 648h1v2h-1zM486 574h1v2h-1zM217 576h1v1h-1zM616 559h1v1h-1zM490 581h1v1h-1zM279 654h1v1h-1zM82 643h1v1h-1zM483 569h1v1h-1zM501 605h1v1h-1zM41 611h1v1h-1zM452 572h1v1h-1zM171 568h1v1h-1zM139 596h1v2h-1zM224 583h1v1h-1zM216 575h1v1h-1zM526 670h1v1h-1zM456 564h1v2h-1zM241 612h1v2h-1zM493 587h1v1h-1zM81 642h1v1h-1zM223 582h1v1h-1zM13 637h1v2h-1zM343 638h1v1h-1zM48 622h1v1h-1zM556 647h1v1h-1zM443 589h1v2h-1zM541 667h1v1h-1zM148 583h1v1h-1zM151 579h1v1h-1zM432 607h1v1h-1zM36 607h1v1h-1zM489 579h1v2h-1zM9 644h1v1h-1zM355 625h1v1h-1zM485 573h1v1h-1zM386 612h1v1h-1zM552 653h1v1h-1zM205 564h1v1h-1zM547 660h1v1h-1zM350 631h1v1h-1zM447 582h1v1h-1zM598 607h1v1h-1zM252 635h1v1h-1zM237 601h1v1h-1zM99 667h1v1h-1zM256 641h1v1h-1zM575 632h1v1h-1zM234 595h1v1h-1zM84 647h1v1h-1zM24 614h1v1h-1zM567 633h1v1h-1zM165 571h1v1h-1zM88 653h1v1h-1zM146 585h1v1h-1zM563 635h1v1h-1z" fill="#ff0000"/>
<path d="M159 569h2v1h-2zM145 579h2v1h-2zM518 676h4v1h-4zM197 563h3v1h-3zM212 580h2v1h-2zM376 605h2v1h-2zM243 647h3v1h-3zM254 647h2v1h-2zM59 628h2v1h-2zM165 566h3v1h-3zM174 566h2v1h-2zM182 566h2v1h-2zM400 611h2v1h-2zM537 666h2v1h-2zM532 669h2v1h-2zM612 556h2v1h-2zM157 570h2v1h-2zM372 608h2v1h-2zM250 645h2v1h-2zM266 645h2v1h-2zM578 645h2v1h-2zM168 565h2v1h-2zM172 565h2v1h-2zM202 565h2v1h-2zM326 648h2v1h-2zM397 610h3v1h-3zM66 631h2v1h-2zM355 619h9v1h-9zM161 568h2v1h-2zM177 568h2v1h-2zM142 577h2v1h-2zM187 562h10v1h-10zM395 609h2v1h-2zM257 649h2v1h-2zM260 649h2v1h-2zM324 649h2v1h-2zM351 621h2v1h-2zM246 646h4v1h-4zM252 646h2v1h-2zM264 646h2v1h-2zM329 646h2v1h-2zM64 630h2v1h-2zM529 671h2v1h-2zM112 651h2v1h-2zM347 623h2v1h-2zM387 623h2v1h-2zM91 670h9v1h-9zM139 576h3v1h-3zM353 620h2v1h-2zM378 604h2v1h-2zM452 555h2v1h-2zM464 555h2v1h-2zM478 575h2v1h-2zM457 552h2v1h-2zM460 552h2v1h-2zM605 552h2v1h-2zM515 677h3v1h-3zM534 668h2v1h-2zM217 583h2v1h-2zM349 622h2v1h-2zM607 553h2v1h-2zM61 629h3v1h-3zM163 567h2v1h-2zM454 554h2v1h-2zM609 554h2v1h-2zM522 675h2v1h-2zM170 564h2v1h-2zM200 564h2v1h-2zM402 612h2v1h-2zM524 674h2v1h-2zM614 557h2v1h-2zM526 673h2v1h-2zM108 654h2v1h-2zM214 581h2v1h-2zM617 559h2v1h-2zM26 598h2v1h-2zM155 571h2v1h-2zM603 551h2v1h-2zM290 684h2v1h-2zM211 579h1v1h-1zM222 588h1v1h-1zM303 661h1v2h-1zM431 600h1v2h-1zM295 676h1v2h-1zM447 563h1v2h-1zM412 605h1v2h-1zM567 628h1v1h-1zM118 633h1v5h-1zM273 656h1v2h-1zM539 664h1v2h-1zM590 611h1v5h-1zM46 632h1v2h-1zM277 662h1v2h-1zM69 633h1v2h-1zM439 581h1v3h-1zM101 666h1v2h-1zM299 669h1v1h-1zM50 638h1v2h-1zM451 556h1v1h-1zM110 653h1v1h-1zM599 568h1v5h-1zM366 615h1v1h-1zM502 636h1v4h-1zM512 668h1v3h-1zM32 607h1v2h-1zM547 645h1v2h-1zM35 613h1v1h-1zM505 647h1v4h-1zM134 590h1v3h-1zM594 592h1v5h-1zM7 634h1v3h-1zM322 648h1v2h-1zM415 610h1v1h-1zM585 631h1v2h-1zM473 568h1v2h-1zM589 616h1v4h-1zM408 607h1v1h-1zM240 630h1v5h-1zM150 577h1v1h-1zM558 630h1v2h-1zM487 587h1v3h-1zM204 566h1v2h-1zM495 610h1v4h-1zM16 613h1v2h-1zM381 607h1v3h-1zM3 643h1v2h-1zM488 590h1v2h-1zM38 618h1v2h-1zM269 648h1v2h-1zM430 602h1v2h-1zM498 621h1v4h-1zM562 624h1v2h-1zM345 626h1v1h-1zM239 626h1v4h-1zM8 632h1v2h-1zM122 615h1v4h-1zM52 638h1v2h-1zM83 661h1v2h-1zM184 565h1v1h-1zM315 639h1v1h-1zM117 638h1v5h-1zM391 616h1v2h-1zM236 611h1v5h-1zM206 570h1v2h-1zM438 584h1v3h-1zM298 670h1v2h-1zM450 557h1v2h-1zM490 594h1v2h-1zM79 651h1v2h-1zM272 654h1v2h-1zM365 616h1v2h-1zM311 646h1v2h-1zM598 573h1v5h-1zM302 663h1v2h-1zM294 678h1v2h-1zM446 565h1v2h-1zM480 576h1v1h-1zM235 608h1v3h-1zM584 633h1v3h-1zM333 642h1v1h-1zM30 603h1v2h-1zM601 559h1v4h-1zM11 625h1v3h-1zM221 586h1v2h-1zM511 666h1v2h-1zM31 605h1v2h-1zM23 601h1v2h-1zM504 643h1v4h-1zM105 658h1v2h-1zM414 608h1v2h-1zM14 618h1v2h-1zM225 591h1v2h-1zM275 660h1v1h-1zM546 647h1v2h-1zM121 619h1v5h-1zM596 582h1v5h-1zM569 630h1v2h-1zM133 593h1v3h-1zM561 626h1v1h-1zM507 655h1v3h-1zM276 661h1v1h-1zM581 641h1v2h-1zM593 597h1v4h-1zM48 635h1v2h-1zM137 580h1v3h-1zM6 637h1v2h-1zM573 636h1v2h-1zM241 635h1v5h-1zM33 609h1v2h-1zM501 632h1v4h-1zM314 640h1v2h-1zM116 643h1v4h-1zM390 618h1v2h-1zM602 554h1v5h-1zM242 640h1v5h-1zM588 620h1v5h-1zM34 611h1v2h-1zM37 616h1v2h-1zM497 617h1v4h-1zM449 559h1v2h-1zM15 615h1v3h-1zM394 610h1v2h-1zM417 613h1v1h-1zM440 578h1v3h-1zM500 628h1v4h-1zM597 578h1v4h-1zM310 648h1v2h-1zM472 566h1v2h-1zM429 604h1v2h-1zM475 572h1v1h-1zM418 614h1v2h-1zM205 568h1v2h-1zM368 613h1v1h-1zM293 680h1v2h-1zM445 567h1v2h-1zM380 605h1v2h-1zM120 624h1v5h-1zM486 585h1v2h-1zM592 601h1v5h-1zM424 611h1v1h-1zM216 582h1v1h-1zM549 642h1v2h-1zM78 648h1v3h-1zM306 655h1v2h-1zM179 569h1v1h-1zM238 621h1v5h-1zM268 646h1v2h-1zM493 603h1v4h-1zM81 656h1v3h-1zM104 660h1v2h-1zM541 659h1v3h-1zM587 625h1v4h-1zM600 563h1v5h-1zM317 642h1v1h-1zM545 649h1v3h-1zM85 664h1v1h-1zM132 596h1v3h-1zM152 574h1v1h-1zM208 573h1v2h-1zM77 645h1v3h-1zM5 639h1v2h-1zM375 606h1v1h-1zM332 643h1v2h-1zM147 580h1v1h-1zM289 681h1v2h-1zM54 635h1v2h-1zM271 652h1v2h-1zM10 628h1v2h-1zM22 603h1v1h-1zM514 674h1v2h-1zM435 592h1v2h-1zM506 651h1v4h-1zM17 610h1v3h-1zM456 553h1v1h-1zM29 601h1v2h-1zM428 606h1v2h-1zM510 663h1v3h-1zM124 610h1v2h-1zM136 583h1v3h-1zM389 620h1v2h-1zM305 657h1v2h-1zM503 640h1v3h-1zM571 633h1v1h-1zM499 625h1v3h-1zM227 594h1v1h-1zM448 561h1v2h-1zM471 564h1v2h-1zM309 650h1v2h-1zM572 634h1v2h-1zM481 577h1v1h-1zM540 662h1v2h-1zM259 650h1v1h-1zM301 665h1v2h-1zM575 639h1v2h-1zM485 583h1v2h-1zM281 667h1v2h-1zM73 638h1v2h-1zM25 599h1v1h-1zM482 578h1v1h-1zM292 682h1v2h-1zM151 575h1v2h-1zM444 569h1v2h-1zM107 655h1v1h-1zM267 644h1v1h-1zM496 614h1v3h-1zM119 629h1v4h-1zM591 606h1v5h-1zM382 610h1v3h-1zM297 672h1v2h-1zM548 644h1v1h-1zM492 599h1v4h-1zM470 562h1v2h-1zM230 599h1v2h-1zM80 653h1v3h-1zM574 638h1v1h-1zM12 623h1v2h-1zM619 560h1v1h-1zM577 642h1v2h-1zM603 552h1v2h-1zM103 662h1v2h-1zM586 629h1v2h-1zM335 639h1v2h-1zM578 644h1v1h-1zM76 643h1v2h-1zM288 679h1v2h-1zM237 616h1v5h-1zM285 673h1v2h-1zM123 612h1v3h-1zM135 586h1v4h-1zM595 587h1v5h-1zM20 605h1v1h-1zM233 604h1v2h-1zM13 620h1v3h-1zM370 610h1v1h-1zM393 612h1v2h-1zM426 609h1v1h-1zM28 599h1v2h-1zM319 644h1v2h-1zM551 640h1v1h-1zM185 564h1v1h-1zM308 652h1v2h-1zM477 574h1v1h-1zM560 627h1v2h-1zM509 660h1v3h-1zM291 685h1v1h-1zM443 571h1v2h-1zM338 635h1v2h-1zM106 656h1v2h-1zM304 659h1v2h-1zM154 572h1v1h-1zM407 608h1v1h-1zM149 578h1v1h-1zM543 654h1v3h-1zM102 664h1v2h-1zM312 644h1v2h-1zM130 601h1v2h-1zM323 650h1v1h-1zM56 632h1v2h-1zM469 560h1v2h-1zM229 597h1v2h-1zM515 676h1v1h-1zM19 606h1v2h-1zM483 579h1v2h-1zM42 626h1v2h-1zM280 666h1v1h-1zM75 641h1v2h-1zM494 607h1v3h-1zM433 596h1v2h-1zM484 581h1v2h-1zM126 607h1v2h-1zM369 611h1v2h-1zM383 613h1v2h-1zM384 615h1v3h-1zM228 595h1v2h-1zM364 618h1v1h-1zM442 573h1v3h-1zM210 577h1v2h-1zM565 625h1v2h-1zM531 670h1v1h-1zM491 596h1v3h-1zM138 577h1v3h-1zM232 602h1v2h-1zM346 624h1v2h-1zM566 627h1v1h-1zM286 675h1v2h-1zM392 614h1v2h-1zM287 677h1v2h-1zM337 637h1v1h-1zM411 604h1v1h-1zM18 608h1v2h-1zM256 648h1v1h-1zM508 658h1v2h-1zM468 558h1v2h-1zM129 603h1v1h-1zM321 647h1v1h-1zM367 614h1v1h-1zM313 642h1v2h-1zM432 598h1v2h-1zM340 632h1v2h-1zM40 622h1v2h-1zM409 606h1v1h-1zM437 587h1v2h-1zM386 621h1v2h-1zM441 576h1v2h-1zM41 624h1v2h-1zM553 637h1v2h-1zM44 629h1v2h-1zM374 607h1v1h-1zM331 645h1v1h-1zM9 630h1v2h-1zM209 575h1v2h-1zM564 624h1v1h-1zM100 668h1v2h-1zM583 636h1v2h-1zM220 585h1v1h-1zM115 647h1v3h-1zM611 555h1v1h-1zM128 604h1v2h-1zM420 615h1v1h-1zM274 658h1v2h-1zM43 628h1v1h-1zM47 634h1v1h-1zM219 584h1v1h-1zM556 633h1v2h-1zM463 554h1v1h-1zM513 671h1v3h-1zM87 666h1v1h-1zM413 607h1v1h-1zM88 667h1v1h-1zM343 628h1v2h-1zM416 611h1v2h-1zM436 589h1v3h-1zM427 608h1v1h-1zM552 639h1v1h-1zM544 652h1v2h-1zM51 640h1v1h-1zM459 551h1v1h-1zM36 614h1v2h-1zM339 634h1v1h-1zM582 638h1v3h-1zM385 618h1v3h-1zM474 570h1v2h-1zM24 600h1v1h-1zM131 599h1v2h-1zM536 667h1v1h-1zM489 592h1v2h-1zM270 650h1v2h-1zM39 620h1v2h-1zM114 650h1v1h-1zM284 671h1v2h-1zM307 654h1v1h-1zM316 640h1v2h-1zM207 572h1v1h-1zM58 629h1v2h-1zM555 635h1v1h-1zM153 573h1v1h-1zM45 631h1v1h-1zM243 645h1v2h-1zM570 632h1v1h-1zM68 632h1v1h-1zM49 637h1v1h-1zM550 641h1v1h-1zM342 630h1v1h-1zM180 568h1v1h-1zM422 613h1v1h-1zM89 668h1v1h-1zM125 609h1v1h-1zM90 669h1v1h-1zM57 631h1v1h-1zM82 659h1v2h-1zM434 594h1v2h-1zM542 657h1v2h-1zM336 638h1v1h-1zM410 605h1v1h-1zM580 643h1v2h-1zM568 629h1v1h-1zM224 590h1v1h-1zM371 609h1v1h-1zM70 635h1v1h-1zM279 665h1v1h-1zM71 636h1v1h-1zM223 589h1v1h-1zM557 632h1v1h-1zM328 647h1v1h-1zM528 672h1v1h-1zM186 563h1v1h-1zM278 664h1v1h-1zM344 627h1v1h-1zM379 603h1v1h-1zM576 641h1v1h-1zM127 606h1v1h-1zM419 616h1v1h-1zM234 606h1v2h-1zM231 601h1v1h-1zM405 610h1v1h-1zM579 646h1v1h-1zM139 575h1v1h-1zM263 647h1v1h-1zM84 663h1v1h-1zM300 667h1v2h-1zM320 646h1v1h-1zM111 652h1v1h-1zM466 556h1v1h-1zM423 612h1v1h-1zM467 557h1v1h-1zM296 674h1v2h-1zM181 567h1v1h-1zM4 641h1v2h-1zM226 593h1v1h-1zM563 623h1v1h-1zM72 637h1v1h-1zM462 553h1v1h-1zM554 636h1v1h-1zM388 622h1v1h-1zM476 573h1v1h-1zM53 637h1v1h-1zM341 631h1v1h-1zM421 614h1v1h-1zM318 643h1v1h-1zM86 665h1v1h-1zM27 597h1v1h-1zM334 641h1v1h-1zM290 683h1v1h-1zM144 578h1v1h-1zM176 567h1v1h-1zM387 624h1v1h-1zM282 669h1v1h-1zM74 640h1v1h-1zM283 670h1v1h-1zM425 610h1v1h-1zM406 609h1v1h-1zM148 579h1v1h-1zM55 634h1v1h-1zM616 558h1v1h-1zM404 611h1v1h-1zM21 604h1v1h-1zM262 648h1v1h-1zM559 629h1v1h-1z" fill="#20b2aa"/>
</g>
<g id="borders" fill="none" stroke="#000" stroke-width="1">
<rect x="2.5" y="2.5" width="701" height="349"/>
<rect x="2.5" y="353.5" width="701" height="179"/>
<rect x="2.5" y="534.5" width="701" height="176"/>
</g>
<g id="axis" shape-rendering="crispEdges">
<rect x="704" y="18" width="2" height="1" fill="#000"/>
<text x="710" y="22" fill="#000" stroke="#000" stroke-width="0.2" textLength="32" lengthAdjust="spacingAndGlyphs" text-anchor="start">1.23335</text>
<rect x="704" y="51" width="2" height="1" fill="#000"/>
<text x="710" y="55" fill="#000" stroke="#000" stroke-width="0.2" textLength="32" lengthAdjust="spacingAndGlyphs" text-anchor="start">1.23080</text>
<rect x="704" y="84" width="2" height="1" fill="#000"/>
<text x="710" y="88" fill="#000" stroke="#000" stroke-width="0.2" textLength="32" lengthAdjust="spacingAndGlyphs" text-anchor="start">1.22820</text>
<rect x="704" y="117" width="2" height="1" fill="#000"/>
<text x="710" y="121" fill="#000" stroke="#000" stroke-width="0.2" textLength="32" lengthAdjust="spacingAndGlyphs" text-anchor="start">1.22560</text>
<rect x="704" y="150" width="2" height="1" fill="#000"/>
<text x="710" y="154" fill="#000" stroke="#000" stroke-width="0.2" textLength="32" lengthAdjust="spacingAndGlyphs" text-anchor="start">1.22305</text>
<rect x="704" y="183" width="2" height="1" fill="#000"/>
<text x="710" y="187" fill="#000" stroke="#000" stroke-width="0.2" textLength="32" lengthAdjust="spacingAndGlyphs" text-anchor="start">1.22045</text>
<rect x="704" y="216" width="2" height="1" fill="#000"/>
<text x="710" y="220" fill="#000" stroke="#000" stroke-width="0.2" textLength="32" lengthAdjust="spacingAndGlyphs" text-anchor="start">1.21790</text>
<rect x="704" y="249" width="2" height="1" fill="#000"/>
<text x="710" y="253" fill="#000" stroke="#000" stroke-width="0.2" textLength="32" lengthAdjust="spacingAndGlyphs" text-anchor="start">1.21530</text>
<rect x="704" y="282" width="2" height="1" fill="#000"/>
<text x="710" y="286" fill="#000" stroke="#000" stroke-width="0.2" textLength="32" lengthAdjust="spacingAndGlyphs" text-anchor="start">1.21275</text>
<rect x="704" y="315" width="2" height="1" fill="#000"/>
<text x="710" y="319" fill="#000" stroke="#000" stroke-width="0.2" textLength="32" lengthAdjust="spacingAndGlyphs" text-anchor="start">1.21015</text>
<rect x="704" y="348" width="2" height="1" fill="#000"/>
<text x="710" y="352" fill="#000" stroke="#000" stroke-width="0.2" textLength="32" lengthAdjust="spacingAndGlyphs" text-anchor="start">1.20760</text>
<rect x="705" y="65" width="41" height="11" fill="#90ee90"/>
<text x="710" y="74" fill="#fff" stroke="#fff" stroke-width="0.2" textLength="32" lengthAdjust="spacingAndGlyphs" text-anchor="start">1.22925</text>
<rect x="705" y="87" width="41" height="11" fill="#90ee90"/>
<text x="710" y="96" fill="#fff" stroke="#fff" stroke-width="0.2" textLength="32" lengthAdjust="spacingAndGlyphs" text-anchor="start">1.22750</text>
<rect x="705" y="122" width="41" height="11" fill="#90ee90"/>
<text x="710" y="131" fill="#fff" stroke="#fff" stroke-width="0.2" textLength="32" lengthAdjust="spacingAndGlyphs" text-anchor="start">1.22475</text>
<rect x="705" y="183" width="41" height="11" fill="#90ee90"/>
<text x="710" y="192" fill="#fff" stroke="#fff" stroke-width="0.2" textLength="32" lengthAdjust="spacingAndGlyphs" text-anchor="start">1.22000</text>
<rect x="705" y="212" width="41" height="11" fill="#90ee90"/>
<text x="710" y="221" fill="#fff" stroke="#fff" stroke-width="0.2" textLength="32" lengthAdjust="spacingAndGlyphs" text-anchor="start">1.21775</text>
<rect x="705" y="238" width="41" height="11" fill="#90ee90"/>
<text x="710" y="247" fill="#fff" stroke="#fff" stroke-width="0.2" textLength="32" lengthAdjust="spacingAndGlyphs" text-anchor="start">1.21575</text>
<rect x="705" y="257" width="41" height="11" fill="#90ee90"/>
<text x="710" y="266" fill="#fff" stroke="#fff" stroke-width="0.2" textLength="32" lengthAdjust="spacingAndGlyphs" text-anchor="start">1.21425</text>
<rect x="705" y="295" width="41" height="11" fill="#90ee90"/>
<text x="710" y="304" fill="#fff" stroke="#fff" stroke-width="0.2" textLength="32" lengthAdjust="spacingAndGlyphs" text-anchor="start">1.21125</text>
<rect x="705" y="337" width="41" height="11" fill="#90ee90"/>
<text x="710" y="346" fill="#fff" stroke="#fff" stroke-width="0.2" textLength="32" lengthAdjust="spacingAndGlyphs" text-anchor="start">1.20800</text>
<rect x="705" y="30" width="41" height="11" fill="#008000"/>
<text x="710" y="39" fill="#fff" stroke="#fff" stroke-width="0.2" textLength="32" lengthAdjust="spacingAndGlyphs" text-anchor="start">1.23200</text>
<rect x="705" y="152" width="41" height="11" fill="#000"/>
<text x="710" y="161" fill="#fff" stroke="#fff" stroke-width="0.2" textLength="32" lengthAdjust="spacingAndGlyphs" text-anchor="start">1.22251</text>
<rect x="704" y="354" width="2" height="1" fill="#000"/>
<rect x="704" y="377" width="2" height="1" fill="#000"/>
<rect x="704" y="531" width="2" height="1" fill="#000"/>
<text x="707" y="364" fill="#000" stroke="#000" stroke-width="0.2" textLength="32" lengthAdjust="spacingAndGlyphs" text-anchor="start">0.00163</text>
<text x="707" y="381" fill="#000" stroke="#000" stroke-width="0.2" textLength="18" lengthAdjust="spacingAndGlyphs" text-anchor="start">0.00</text>
<text x="707" y="529" fill="#000" stroke="#000" stroke-width="0.2" textLength="39" lengthAdjust="spacingAndGlyphs" text-anchor="start">-0.011014</text>
<text x="707" y="545" fill="#000" stroke="#000" stroke-width="0.2" textLength="14" lengthAdjust="spacingAndGlyphs" text-anchor="start">100</text>
<text x="707" y="574" fill="#000" stroke="#000" stroke-width="0.2" textLength="9.5" lengthAdjust="spacingAndGlyphs" text-anchor="start">80</text>
<text x="707" y="679" fill="#000" stroke="#000" stroke-width="0.2" textLength="9.5" lengthAdjust="spacingAndGlyphs" text-anchor="start">20</text>
<text x="707" y="707" fill="#000" stroke="#000" stroke-width="0.2" textLength="4.7" lengthAdjust="spacingAndGlyphs" text-anchor="start">0</text>
<rect x="704" y="570" width="2" height="1" fill="#000"/>
<rect x="704" y="675" width="2" height="1" fill="#000"/>
</g>
<g id="titles">
<polygon points="6,9 13,9 9.5,13" fill="#000" shape-rendering="geometricPrecision"/>
<text x="18.5" y="14" fill="#000" stroke="#000" stroke-width="0.2" textLength="53" lengthAdjust="spacingAndGlyphs" text-anchor="start">GBPUSD,H4</text>
<text x="78.5" y="14" fill="#000" stroke="#000" stroke-width="0.2" textLength="32.3" lengthAdjust="spacingAndGlyphs" text-anchor="start">1.22299</text>
<text x="114.5" y="14" fill="#000" stroke="#000" stroke-width="0.2" textLength="32.3" lengthAdjust="spacingAndGlyphs" text-anchor="start">1.22320</text>
<text x="150.5" y="14" fill="#000" stroke="#000" stroke-width="0.2" textLength="32.3" lengthAdjust="spacingAndGlyphs" text-anchor="start">1.22233</text>
<text x="186.5" y="14" fill="#000" stroke="#000" stroke-width="0.2" textLength="32.3" lengthAdjust="spacingAndGlyphs" text-anchor="start">1.22251</text>
<text x="7.5" y="366" fill="#000" stroke="#000" stroke-width="0.2" textLength="66" lengthAdjust="spacingAndGlyphs" text-anchor="start">MACD(12,26,9)</text>
<text x="76" y="366" fill="#000" stroke="#000" stroke-width="0.2" textLength="37.4" lengthAdjust="spacingAndGlyphs" text-anchor="start">0.000405</text>
<text x="116.3" y="366" fill="#000" stroke="#000" stroke-width="0.2" textLength="41.2" lengthAdjust="spacingAndGlyphs" text-anchor="start">-0.000575</text>
<text x="7.5" y="547.4" fill="#000" stroke="#000" stroke-width="0.2" textLength="54.5" lengthAdjust="spacingAndGlyphs" text-anchor="start">Stoch(13,3,3)</text>
<text x="65.4" y="547.4" fill="#000" stroke="#000" stroke-width="0.2" textLength="33" lengthAdjust="spacingAndGlyphs" text-anchor="start">85.5769</text>
<text x="101" y="547.4" fill="#000" stroke="#000" stroke-width="0.2" textLength="33" lengthAdjust="spacingAndGlyphs" text-anchor="start">88.4550</text>
</g>
<g id="dates">
<rect x="3" y="711" width="1" height="3" fill="#000"/>
<text x="2.5" y="723" fill="#000" stroke="#000" stroke-width="0.2" textLength="49.5" lengthAdjust="spacingAndGlyphs" text-anchor="start">13 Oct 2016</text>
<rect x="67" y="711" width="1" height="3" fill="#000"/>
<text x="66.5" y="723" fill="#000" stroke="#000" stroke-width="0.2" textLength="53.5" lengthAdjust="spacingAndGlyphs" text-anchor="start">14 Oct 20:00</text>
<rect x="131" y="711" width="1" height="3" fill="#000"/>
<text x="130.5" y="723" fill="#000" stroke="#000" stroke-width="0.2" textLength="53.5" lengthAdjust="spacingAndGlyphs" text-anchor="start">18 Oct 04:00</text>
<rect x="195" y="711" width="1" height="3" fill="#000"/>
<text x="194.5" y="723" fill="#000" stroke="#000" stroke-width="0.2" textLength="53.5" lengthAdjust="spacingAndGlyphs" text-anchor="start">19 Oct 12:00</text>
<rect x="259" y="711" width="1" height="3" fill="#000"/>
<text x="258.5" y="723" fill="#000" stroke="#000" stroke-width="0.2" textLength="53.5" lengthAdjust="spacingAndGlyphs" text-anchor="start">20 Oct 20:00</text>
<rect x="323" y="711" width="1" height="3" fill="#000"/>
<text x="322.5" y="723" fill="#000" stroke="#000" stroke-width="0.2" textLength="53.5" lengthAdjust="spacingAndGlyphs" text-anchor="start">24 Oct 04:00</text>
<rect x="387" y="711" width="1" height="3" fill="#000"/>
<text x="386.5" y="723" fill="#000" stroke="#000" stroke-width="0.2" textLength="53.5" lengthAdjust="spacingAndGlyphs" text-anchor="start">25 Oct 12:00</text>
<rect x="451" y="711" width="1" height="3" fill="#000"/>
<text x="450.5" y="723" fill="#000" stroke="#000" stroke-width="0.2" textLength="53.5" lengthAdjust="spacingAndGlyphs" text-anchor="start">26 Oct 20:00</text>
<rect x="515" y="711" width="1" height="3" fill="#000"/>
<text x="514.5" y="723" fill="#000" stroke="#000" stroke-width="0.2" textLength="53.5" lengthAdjust="spacingAndGlyphs" text-anchor="start">28 Oct 04:00</text>
<rect x="579" y="711" width="1" height="3" fill="#000"/>
<text x="578.5" y="723" fill="#000" stroke="#000" stroke-width="0.2" textLength="53.5" lengthAdjust="spacingAndGlyphs" text-anchor="start">31 Oct 12:00</text>
</g>
</svg>
</body></html>
